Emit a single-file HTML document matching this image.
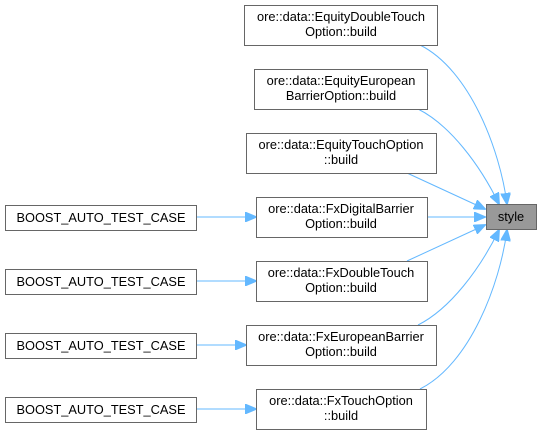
<!DOCTYPE html>
<html><head><meta charset="utf-8"><style>
html,body{margin:0;padding:0;background:#fff;}
svg{display:block;}
text{font-family:"Liberation Sans",Arial,sans-serif;font-size:12.8px;fill:#000;}
</style></head><body>
<svg width="541" height="435" viewBox="0 0 541 435" xmlns="http://www.w3.org/2000/svg">
<defs>
<marker id="a" markerWidth="12" markerHeight="10" refX="11" refY="5" orient="auto" markerUnits="userSpaceOnUse">
<path d="M0,0 L12,5 L0,10 Z" fill="#63b8ff" stroke="#63b8ff"/>
</marker>
</defs>
<g fill="none" stroke="#63b8ff" stroke-width="1">
<path d="M420,45 C470,70 500,150 507,204" marker-end="url(#a)"/>
<path d="M418,109 C450,125 480,165 499,204" marker-end="url(#a)"/>
<path d="M407,173 L485,209" marker-end="url(#a)"/>
<path d="M427,217 L485,217" marker-end="url(#a)"/>
<path d="M407,261 L485,225" marker-end="url(#a)"/>
<path d="M418,325 C450,309 480,269 499,230" marker-end="url(#a)"/>
<path d="M420,389 C470,364 500,284 507,230" marker-end="url(#a)"/>
<path d="M196,217 L256,217" marker-end="url(#a)"/>
<path d="M196,281 L256,281" marker-end="url(#a)"/>
<path d="M196,345 L246,345" marker-end="url(#a)"/>
<path d="M196,409 L256,409" marker-end="url(#a)"/>
</g>
<g fill="#fff" stroke="#666" stroke-width="1">
<rect x="244.5" y="5.5" width="193" height="40"/>
<rect x="254.5" y="69.5" width="173" height="40"/>
<rect x="246.5" y="133.5" width="190" height="40"/>
<rect x="256.5" y="197.5" width="171" height="40"/>
<rect x="256.5" y="261.5" width="171" height="40"/>
<rect x="246.5" y="325.5" width="190" height="40"/>
<rect x="256.5" y="389.5" width="170" height="40"/>
<rect x="5.5" y="205.5" width="191" height="25"/>
<rect x="5.5" y="269.5" width="191" height="25"/>
<rect x="5.5" y="333.5" width="191" height="25"/>
<rect x="5.5" y="397.5" width="191" height="25"/>
<rect x="486.5" y="204.5" width="50" height="25" fill="#999"/>
</g>
<g text-anchor="middle">
<text x="341" y="21">ore::data::EquityDoubleTouch</text><text x="341" y="36">Option::build</text>
<text x="341" y="85">ore::data::EquityEuropean</text><text x="341" y="100">BarrierOption::build</text>
<text x="341" y="149">ore::data::EquityTouchOption</text><text x="341" y="164">::build</text>
<text x="341" y="213">ore::data::FxDigitalBarrier</text><text x="341" y="228">Option::build</text>
<text x="341" y="277">ore::data::FxDoubleTouch</text><text x="341" y="292">Option::build</text>
<text x="341" y="341">ore::data::FxEuropeanBarrier</text><text x="341" y="356">Option::build</text>
<text x="341" y="405">ore::data::FxTouchOption</text><text x="341" y="420">::build</text>
<text x="101" y="222">BOOST_AUTO_TEST_CASE</text>
<text x="101" y="286">BOOST_AUTO_TEST_CASE</text>
<text x="101" y="350">BOOST_AUTO_TEST_CASE</text>
<text x="101" y="414">BOOST_AUTO_TEST_CASE</text>
<text x="511" y="221">style</text>
</g>
</svg>
</body></html>
